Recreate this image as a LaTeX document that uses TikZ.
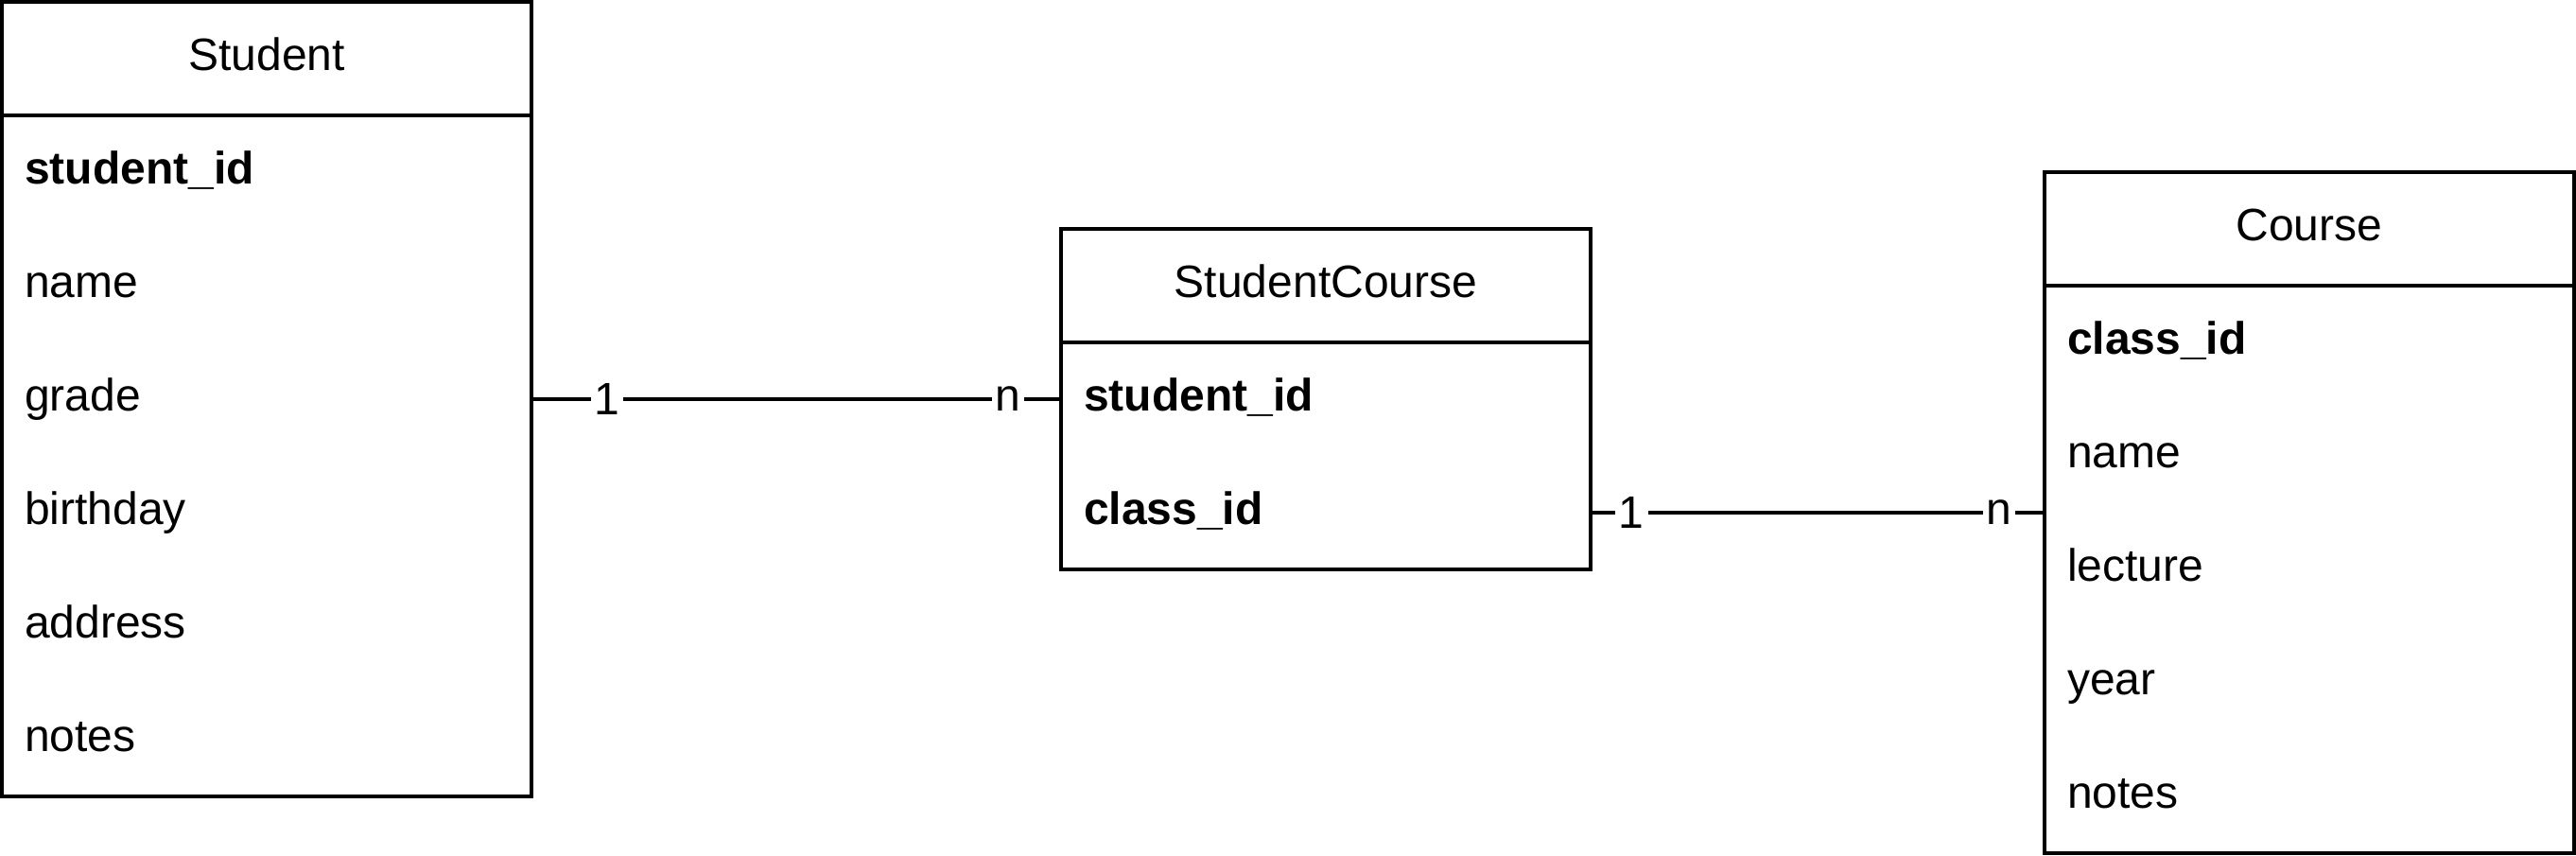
\documentclass[tikz,border=0pt]{standalone}
\usepackage{fontspec}
\setmainfont{Liberation Sans}
\usetikzlibrary{positioning}

\tikzset{
	every node/.style={outer sep=0pt},
	tab/.style={draw,line width=1pt,minimum width=140pt,inner sep=0pt,anchor=north west},
	head/.style={minimum width=140pt,minimum height=30pt,inner sep=0pt,
		text height=8.6pt,text depth=2.6pt,font=\fontsize{12}{14}\selectfont},
	field/.style={minimum height=30pt,text width=128pt,inner xsep=6pt,inner ysep=0pt,align=left,
		text height=8.6pt,text depth=2.6pt,font=\fontsize{12}{14}\selectfont},
	key/.style={field,font=\fontsize{12}{14}\selectfont\bfseries},
	card/.style={fill=white,inner xsep=1pt,inner ysep=0.5pt,font=\fontsize{12}{14}\selectfont},
}

\begin{document}
\begin{tikzpicture}[line cap=butt,line join=miter,x=1pt,y=-1pt]
	\useasboundingbox (-0.5,-0.5) rectangle (680.5,225.5);
	% Student
	\node[tab,minimum height=210pt] (stu) at (0,0) {};
	\node[head,anchor=north] (stuT) at (stu.north) {Student};
	\draw[line width=1pt] (stuT.south west) -- (stuT.south east);
	\node[key,below=0pt of stuT] (stuId) {student\_id};
	\node[field,below=0pt of stuId] (stuName) {name};
	\node[field,below=0pt of stuName] (stuGrade) {grade};
	\node[field,below=0pt of stuGrade] (stuBirth) {birthday};
	\node[field,below=0pt of stuBirth] (stuAddr) {address};
	\node[field,below=0pt of stuAddr] (stuNotes) {notes};
	% StudentCourse
	\node[tab,minimum height=90pt] (sc) at (280,60) {};
	\node[head,anchor=north] (scT) at (sc.north) {StudentCourse};
	\draw[line width=1pt] (scT.south west) -- (scT.south east);
	\node[key,below=0pt of scT] (scStu) {student\_id};
	\node[key,below=0pt of scStu] (scCls) {class\_id};
	% Course
	\node[tab,minimum height=180pt] (crs) at (540,45) {};
	\node[head,anchor=north] (crsT) at (crs.north) {Course};
	\draw[line width=1pt] (crsT.south west) -- (crsT.south east);
	\node[key,below=0pt of crsT] (crsId) {class\_id};
	\node[field,below=0pt of crsId] (crsName) {name};
	\node[field,below=0pt of crsName] (crsLect) {lecture};
	\node[field,below=0pt of crsLect] (crsYear) {year};
	\node[field,below=0pt of crsYear] (crsNotes) {notes};
	% relazioni
	\coordinate (crsIn) at (scCls.east -| crs.west);
	\draw[line width=1pt] (stuGrade.east) -- node[card,pos=0.143] {1} node[card,pos=0.9] {n} (scStu.west);
	\draw[line width=1pt] (scCls.east) -- node[card,pos=0.09] {1} node[card,pos=0.9] {n} (crsIn);
\end{tikzpicture}
\end{document}
